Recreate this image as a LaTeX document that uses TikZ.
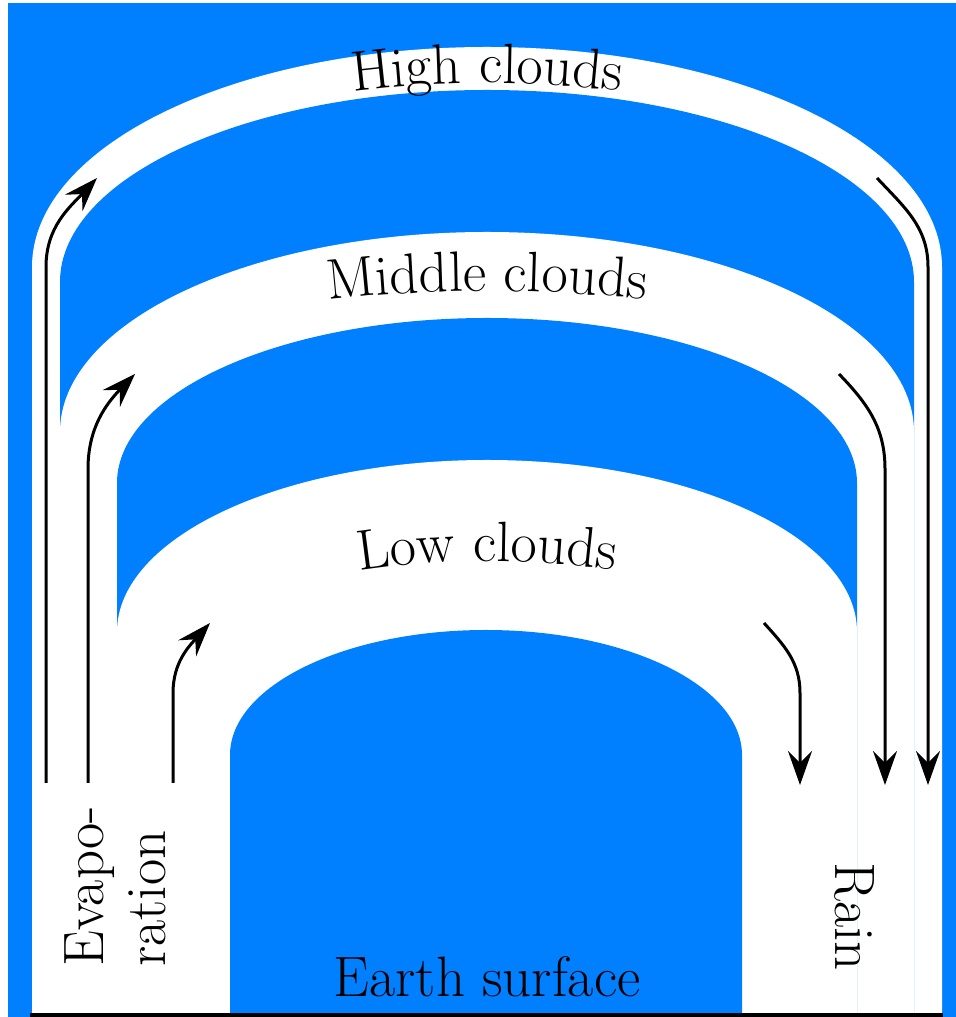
\documentclass[tikz,border=0pt]{standalone}
\usetikzlibrary{arrows.meta,decorations.text}

\definecolor{skyblue}{RGB}{0,128,255}
\newcommand{\cloudsize}{\fontsize{28.5}{31}\selectfont}

\tikzset{
    sky/.style={fill=skyblue},
    band/.style={fill=white},
    flow/.style={line width=1.5pt, -{Stealth[length=17pt, width=12pt, inset=6pt]}},
    arclabel/.style={decorate, decoration={text along path, text align=center, text={|\cloudsize|#1}}}
}

\begin{document}
\begin{tikzpicture}[x=0.5pt, y=0.5pt]
        \useasboundingbox (0,0) rectangle (956,1017);
        \fill[sky] (8,0) rectangle (956,1014);

        % cloud layers, outside to inside
        \fill[band] (32,3) -- (32,750) arc[start angle=180, end angle=0, x radius=455, y radius=220] -- (942,3) -- cycle;
        \fill[sky] (60,3) -- (60,735) arc[start angle=180, end angle=0, x radius=427, y radius=192] -- (914,3) -- cycle;
        \fill[band] (60,3) -- (60,585) arc[start angle=180, end angle=0, x radius=427, y radius=200] -- (914,3) -- cycle;
        \fill[sky] (117,3) -- (117,534) arc[start angle=180, end angle=0, x radius=370, y radius=165] -- (857,3) -- cycle;
        \fill[band] (117,3) -- (117,385) arc[start angle=180, end angle=0, x radius=370, y radius=172] -- (857,3) -- cycle;
        \fill[sky] (230,3) -- (230,262) arc[start angle=180, end angle=0, x radius=256, y radius=125] -- (742,3) -- cycle;

        % Names of the layers, set along the bands
        \path[arclabel=High clouds] (47,755) arc[start angle=180, end angle=0, x radius=440, y radius=179];
        \path[arclabel=Middle clouds] (60,603) arc[start angle=180, end angle=0, x radius=427, y radius=123];
        \path[arclabel=Low clouds] (117,303) arc[start angle=180, end angle=0, x radius=370, y radius=153];

        \node[anchor=base, font=\cloudsize] (earth) at (487,20) {Earth surface};
        \node[rotate=90, anchor=base west, align=left, inner sep=0pt, font=\cloudsize] (evap) at (165,50) {Evapo-\\ration};
        \node[rotate=-90, anchor=base west, inner sep=0pt, font=\cloudsize] (rain) at (835,155) {Rain};

        \draw[line width=2pt] (30,2) -- (943,2);

        % Evaporation going up
        \coordinate (up1) at (46,234);
        \coordinate (up1end) at (97,839);
        \coordinate (up2) at (88,234);
        \coordinate (up2end) at (135,643);
        \coordinate (up3) at (173,234);
        \coordinate (up3end) at (210,394);
        \draw[flow] (up1) -- (46,750) to[out=90, in=227] (up1end);
        \draw[flow] (up2) -- (88,548) to[out=90, in=226] (up2end);
        \draw[flow] (up3) -- (173,324) to[out=90, in=228] (up3end);

        % Rain coming down
        \coordinate (down1) at (877,839);
        \coordinate (down1end) at (928,232);
        \coordinate (down2) at (839,643);
        \coordinate (down2end) at (885,232);
        \coordinate (down3) at (764,394);
        \coordinate (down3end) at (800,232);
        \draw[flow] (down1) to[out=-47, in=90] (928,750) -- (down1end);
        \draw[flow] (down2) to[out=-46, in=90] (885,548) -- (down2end);
        \draw[flow] (down3) to[out=-48, in=90] (800,324) -- (down3end);
    \end{tikzpicture}
\end{document}
